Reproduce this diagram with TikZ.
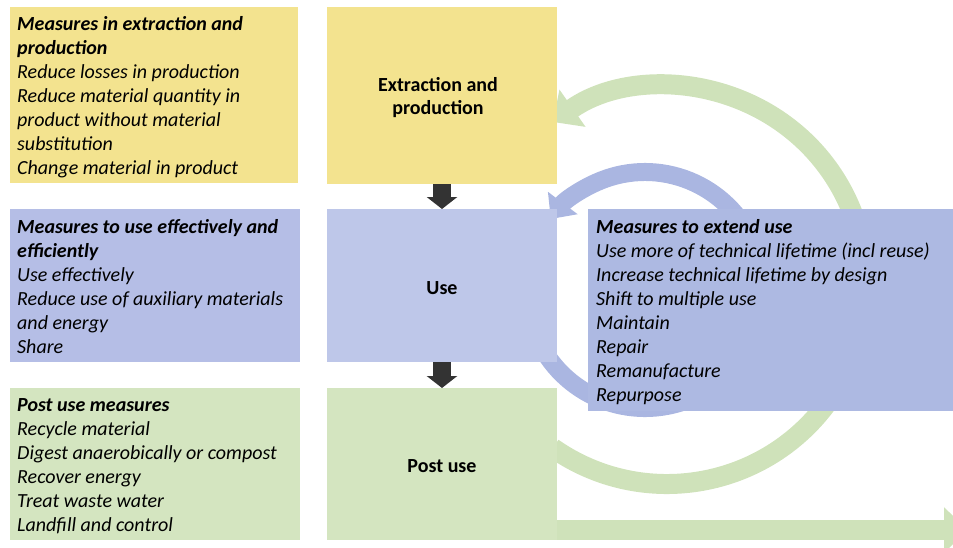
\documentclass[tikz,border=0pt]{standalone}
\usepackage{fontspec}
\setmainfont{Carlito}
\usetikzlibrary{arrows.meta}
\definecolor{cyel}{RGB}{243,227,143}
\definecolor{cblue}{RGB}{181,190,230}
\definecolor{cuse}{RGB}{190,199,233}
\definecolor{clife}{RGB}{173,185,226}
\definecolor{cgreen}{RGB}{212,229,192}
\definecolor{carcg}{RGB}{207,226,186}
\definecolor{carcb}{RGB}{170,182,225}
\definecolor{cflow}{RGB}{51,51,51}
\begin{document}
\begin{tikzpicture}[x=1pt,y=-1pt,
  box/.style={anchor=north west,inner sep=0pt,outer sep=0pt},
  stage/.style={box,minimum width=230pt},
  stagelab/.style={font=\fontsize{20}{23}\selectfont\bfseries,align=center,inner sep=0pt},
  measure/.style={anchor=north west,inner sep=0pt,align=left,font=\fontsize{20}{24}\selectfont\itshape},
  flow/.style={cflow,line width=18pt,-{Triangle[width=30pt,length=12pt]}},
  loop/.style={line width=20pt,-{Triangle[width=44pt,length=24pt]}}]
\useasboundingbox (0,0) rectangle (953,547);
\clip (0,0) rectangle (953,547);
\coordinate (gc) at (667,285);
\coordinate (bc) at (645,290);
\coordinate (gstart) at (500,530);
\coordinate (gend) at (968,530);
\draw[loop,carcg] ([shift={(125:199)}]gc) arc[start angle=125,end angle=-125,radius=199];
\draw[loop,carcb,line width=18pt,-{Triangle[width=36pt,length=20pt]}] ([shift={(160:118)}]bc) arc[start angle=160,end angle=-143,radius=118];
\draw[loop,carcg] (gstart) -- (gend);
\node[box,fill=cyel,minimum width=288pt,minimum height=176pt] (mext) at (10,7) {};
\node[box,fill=cblue,minimum width=290pt,minimum height=153pt] (muse) at (10,209) {};
\node[box,fill=cgreen,minimum width=290pt,minimum height=152pt] (mpost) at (10,388) {};
\node[box,fill=clife,minimum width=372pt,minimum height=202pt] (mlife) at (588,209) {};
\node[stage,fill=cyel,minimum height=177pt] (ext) at (327,7) {};
\node[stage,fill=cuse,minimum height=153pt] (use) at (327,209) {};
\node[stage,fill=cgreen,minimum height=152pt] (post) at (327,388) {};
\node[stagelab] (lext) at ([shift={(-4,2)}]ext.center) {Extraction and\\production};
\node[stagelab] (luse) at ([shift={(0,3)}]use.center) {Use};
\node[stagelab] (lpost) at ([shift={(0,2)}]post.center) {Post use};
\draw[flow] (ext) -- (use);
\draw[flow] (use) -- (post);
\node[measure] (text) at ([shift={(7,9)}]mext.north west) {\textbf{Measures in extraction and}\\\textbf{production}\\Reduce losses in production\\Reduce material quantity in\\product without material\\substitution\\Change material in product};
\node[measure] (tuse) at ([shift={(7,10)}]muse.north west) {\textbf{Measures to use effectively and}\\\textbf{efficiently}\\Use effectively\\Reduce use of auxiliary materials\\and energy\\Share};
\node[measure] (tpost) at ([shift={(7,10)}]mpost.north west) {\textbf{Post use measures}\\Recycle material\\Digest anaerobically or compost\\Recover energy\\Treat waste water\\Landfill and control};
\node[measure] (tlife) at ([shift={(8,10)}]mlife.north west) {\textbf{Measures to extend use}\\Use more of technical lifetime (incl reuse)\\Increase technical lifetime by design\\Shift to multiple use\\Maintain\\Repair\\Remanufacture\\Repurpose};
\end{tikzpicture}
\end{document}
